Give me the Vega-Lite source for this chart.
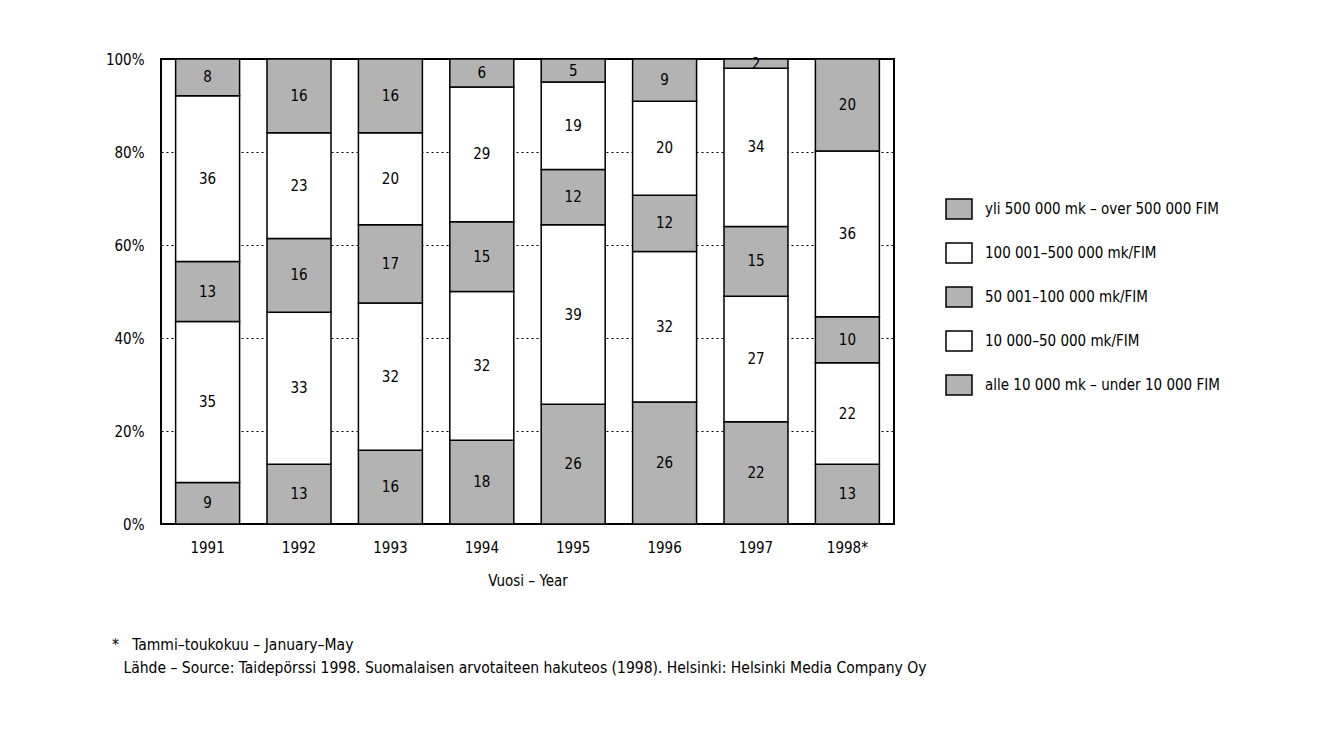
{
  "$schema": "https://vega.github.io/schema/vega-lite/v6.json",
  "width": 733,
  "height": 465,
  "autosize": {"type": "none"},
  "padding": {"left": 161, "top": 59, "right": 442, "bottom": 213},
  "background": "white",
  "config": {
    "font": "DejaVu Sans Condensed, Roboto, sans-serif",
    "view": {"stroke": "black", "strokeWidth": 2}
  },
  "title": {
    "text": "*\u00a0\u00a0\u00a0Tammi–toukokuu – January–May",
    "subtitle": "\u200b\u2002\u00a0Lähde – Source: Taidepörssi 1998. Suomalaisen arvotaiteen hakuteos (1998). Helsinki: Helsinki Media Company Oy",
    "orient": "bottom",
    "anchor": "start",
    "frame": "group",
    "dx": -49,
    "offset": 50,
    "fontSize": 15.5,
    "fontWeight": "normal",
    "subtitleFontSize": 15.5,
    "subtitlePadding": 7,
    "color": "black",
    "subtitleColor": "black",
    "font": "DejaVu Sans Condensed, Roboto, sans-serif",
    "subtitleFont": "DejaVu Sans Condensed, Roboto, sans-serif"
  },
  "data": {
    "values": [
      {"year": "1991", "cat": "alle 10 000 mk – under 10 000 FIM", "k": 0, "value": 9},
      {"year": "1991", "cat": "10 000–50 000 mk/FIM", "k": 1, "value": 35},
      {"year": "1991", "cat": "50 001–100 000 mk/FIM", "k": 2, "value": 13},
      {"year": "1991", "cat": "100 001–500 000 mk/FIM", "k": 3, "value": 36},
      {"year": "1991", "cat": "yli 500 000 mk – over 500 000 FIM", "k": 4, "value": 8},
      {"year": "1992", "cat": "alle 10 000 mk – under 10 000 FIM", "k": 0, "value": 13},
      {"year": "1992", "cat": "10 000–50 000 mk/FIM", "k": 1, "value": 33},
      {"year": "1992", "cat": "50 001–100 000 mk/FIM", "k": 2, "value": 16},
      {"year": "1992", "cat": "100 001–500 000 mk/FIM", "k": 3, "value": 23},
      {"year": "1992", "cat": "yli 500 000 mk – over 500 000 FIM", "k": 4, "value": 16},
      {"year": "1993", "cat": "alle 10 000 mk – under 10 000 FIM", "k": 0, "value": 16},
      {"year": "1993", "cat": "10 000–50 000 mk/FIM", "k": 1, "value": 32},
      {"year": "1993", "cat": "50 001–100 000 mk/FIM", "k": 2, "value": 17},
      {"year": "1993", "cat": "100 001–500 000 mk/FIM", "k": 3, "value": 20},
      {"year": "1993", "cat": "yli 500 000 mk – over 500 000 FIM", "k": 4, "value": 16},
      {"year": "1994", "cat": "alle 10 000 mk – under 10 000 FIM", "k": 0, "value": 18},
      {"year": "1994", "cat": "10 000–50 000 mk/FIM", "k": 1, "value": 32},
      {"year": "1994", "cat": "50 001–100 000 mk/FIM", "k": 2, "value": 15},
      {"year": "1994", "cat": "100 001–500 000 mk/FIM", "k": 3, "value": 29},
      {"year": "1994", "cat": "yli 500 000 mk – over 500 000 FIM", "k": 4, "value": 6},
      {"year": "1995", "cat": "alle 10 000 mk – under 10 000 FIM", "k": 0, "value": 26},
      {"year": "1995", "cat": "10 000–50 000 mk/FIM", "k": 1, "value": 39},
      {"year": "1995", "cat": "50 001–100 000 mk/FIM", "k": 2, "value": 12},
      {"year": "1995", "cat": "100 001–500 000 mk/FIM", "k": 3, "value": 19},
      {"year": "1995", "cat": "yli 500 000 mk – over 500 000 FIM", "k": 4, "value": 5},
      {"year": "1996", "cat": "alle 10 000 mk – under 10 000 FIM", "k": 0, "value": 26},
      {"year": "1996", "cat": "10 000–50 000 mk/FIM", "k": 1, "value": 32},
      {"year": "1996", "cat": "50 001–100 000 mk/FIM", "k": 2, "value": 12},
      {"year": "1996", "cat": "100 001–500 000 mk/FIM", "k": 3, "value": 20},
      {"year": "1996", "cat": "yli 500 000 mk – over 500 000 FIM", "k": 4, "value": 9},
      {"year": "1997", "cat": "alle 10 000 mk – under 10 000 FIM", "k": 0, "value": 22},
      {"year": "1997", "cat": "10 000–50 000 mk/FIM", "k": 1, "value": 27},
      {"year": "1997", "cat": "50 001–100 000 mk/FIM", "k": 2, "value": 15},
      {"year": "1997", "cat": "100 001–500 000 mk/FIM", "k": 3, "value": 34},
      {"year": "1997", "cat": "yli 500 000 mk – over 500 000 FIM", "k": 4, "value": 2},
      {"year": "1998*", "cat": "alle 10 000 mk – under 10 000 FIM", "k": 0, "value": 13},
      {"year": "1998*", "cat": "10 000–50 000 mk/FIM", "k": 1, "value": 22},
      {"year": "1998*", "cat": "50 001–100 000 mk/FIM", "k": 2, "value": 10},
      {"year": "1998*", "cat": "100 001–500 000 mk/FIM", "k": 3, "value": 36},
      {"year": "1998*", "cat": "yli 500 000 mk – over 500 000 FIM", "k": 4, "value": 20}
    ]
  },
  "encoding": {
    "x": {
      "field": "year",
      "type": "nominal",
      "scale": {"paddingInner": 0.3, "paddingOuter": 0.16},
      "axis": {
        "title": "Vuosi – Year",
        "labelAngle": 0,
        "ticks": false,
        "domain": false,
        "labelPadding": 16,
        "labelFontSize": 15,
        "labelColor": "black",
        "titleFontSize": 15,
        "titleFontWeight": "normal",
        "titleColor": "black",
        "titlePadding": 18
      }
    },
    "y": {
      "field": "value",
      "type": "quantitative",
      "stack": "normalize",
      "scale": {"domain": [0, 1], "nice": false},
      "axis": {
        "title": null,
        "values": [0, 0.2, 0.4, 0.6, 0.8, 1],
        "format": ".0%",
        "ticks": false,
        "domain": false,
        "labelPadding": 17,
        "labelFontSize": 15,
        "labelColor": "black",
        "grid": true,
        "gridColor": "black",
        "gridDash": [2, 3],
        "gridWidth": 1,
        "gridOpacity": 1
      }
    },
    "order": {"field": "k", "type": "quantitative"}
  },
  "layer": [
    {
      "mark": {"type": "bar", "stroke": "black", "strokeWidth": 1.5},
      "encoding": {
        "color": {
          "field": "cat",
          "type": "nominal",
          "scale": {
            "domain": [
              "yli 500 000 mk – over 500 000 FIM",
              "100 001–500 000 mk/FIM",
              "50 001–100 000 mk/FIM",
              "10 000–50 000 mk/FIM",
              "alle 10 000 mk – under 10 000 FIM"
            ],
            "range": ["#b3b3b3", "#ffffff", "#b3b3b3", "#ffffff", "#b3b3b3"]
          },
          "legend": {
            "title": null,
            "orient": "none",
            "legendX": 787,
            "legendY": 139,
            "symbolType": "M-1.3,-1H1.3V1H-1.3Z",
            "symbolSize": 400,
            "symbolStrokeColor": "black",
            "symbolStrokeWidth": 1.5,
            "symbolOpacity": 1,
            "labelFontSize": 15,
            "labelColor": "black",
            "labelOffset": 15,
            "labelLimit": 400,
            "rowPadding": 18
          }
        }
      }
    },
    {
      "mark": {"type": "text", "fontSize": 15, "color": "black", "baseline": "middle"},
      "encoding": {
        "y": {"field": "value", "type": "quantitative", "stack": "normalize", "bandPosition": 0.5},
        "text": {"field": "value", "type": "quantitative"}
      }
    }
  ]
}
